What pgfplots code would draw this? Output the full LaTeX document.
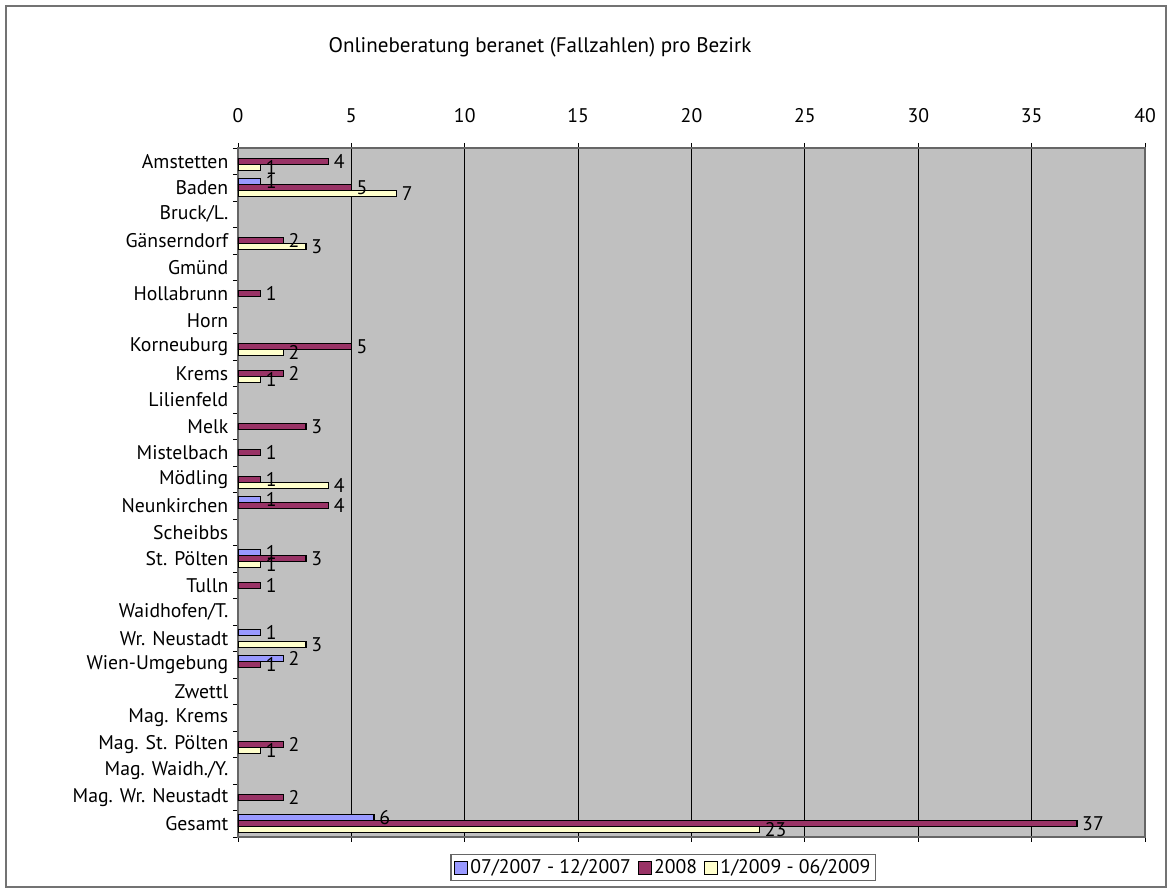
\documentclass[border=0pt]{standalone}
\usepackage{fontspec}
\setmainfont{PT Sans}
\usepackage{pgfplots}
\pgfplotsset{compat=1.18}
\definecolor{serA}{HTML}{9999FF}
\definecolor{serB}{HTML}{993366}
\definecolor{serC}{HTML}{FFFFCC}
\definecolor{plotbg}{HTML}{C0C0C0}
\newcommand{\lblfont}{\fontsize{14.8}{16}\selectfont}
\newcommand{\ttlfont}{\fontsize{15.8}{17}\selectfont}
\begin{document}
\begin{tikzpicture}
% page: 878.25pt x 666pt
\useasboundingbox (0pt,0pt) rectangle (878.25pt,666pt);
\draw[black!55, line width=1.5pt] (4.5pt,0.75pt) rectangle (874.5pt,661.5pt);
\node[font=\ttlfont] at (405pt,630.75pt) {Onlineberatung beranet (Fallzahlen) pro Bezirk};
\begin{axis}[
  at={(178.5pt,38.25pt)}, anchor=south west,
  scale only axis, width=680.25pt, height=516.75pt,
  xbar=0pt, bar width=4.5pt,
  xmin=0, xmax=40, xtick={0,5,...,40},
  xticklabel pos=right,
  xmajorgrids, grid style={black, line width=0.6pt},
  ymin=0.5, ymax=26.5,
  ytick={1,...,26},
  yticklabels={Gesamt,Mag. Wr. Neustadt,Mag. Waidh./Y.,Mag. St. Pölten,Mag. Krems,Zwettl,Wien-Umgebung,Wr. Neustadt,Waidhofen/T.,Tulln,St. Pölten,Scheibbs,Neunkirchen,Mödling,Mistelbach,Melk,Lilienfeld,Krems,Korneuburg,Horn,Hollabrunn,Gmünd,Gänserndorf,Bruck/L.,Baden,Amstetten},
  minor ytick={0.5,1.5,...,26.5},
  major y tick style={draw=none},
  ytick pos=left,
  tick align=outside,
  major tick length=3.75pt, minor tick length=3.75pt,
  tick style={black, line width=0.6pt},
  axis line style={black!60, line width=1pt},
  axis background/.style={fill=plotbg},
  ticklabel style={font=\lblfont},
  /pgf/number format/assume math mode=true,
  xticklabel style={yshift=12pt},
  nodes near coords,
  nodes near coords style={font=\lblfont, anchor=west, inner sep=3.5pt},
  every axis plot/.append style={draw=black, line width=0.9pt},
  legend columns=3,
  legend style={at={(axis description cs:0.469,-0.0443)}, anchor=center,
    draw=black!60, line width=0.8pt, font=\lblfont, inner sep=2pt,
    /tikz/every even column/.append style={column sep=3pt}},
  legend image code/.code={\draw[#1, line width=0.7pt] (0pt,-4.9pt) rectangle (9.75pt,4.9pt);},
]
% 07/2007 - 12/2007 (top bar of each group)
\addplot[fill=serA, bar shift=4.5pt] coordinates {(1,25) (1,13) (1,11) (1,8) (2,7) (6,1)};
% 2008 (middle bar)
\addplot[fill=serB, bar shift=0pt] coordinates {(4,26) (5,25) (2,23) (1,21) (5,19) (2,18) (3,16) (1,15) (1,14) (4,13) (3,11) (1,10) (1,7) (2,4) (2,2) (37,1)};
% 1/2009 - 06/2009 (bottom bar)
\addplot[fill=serC, bar shift=-4.5pt] coordinates {(1,26) (7,25) (3,23) (2,19) (1,18) (4,14) (1,11) (3,8) (1,4) (23,1)};
\legend{07/2007 - 12/2007, 2008, 1/2009 - 06/2009}
\end{axis}
\end{tikzpicture}
\end{document}
